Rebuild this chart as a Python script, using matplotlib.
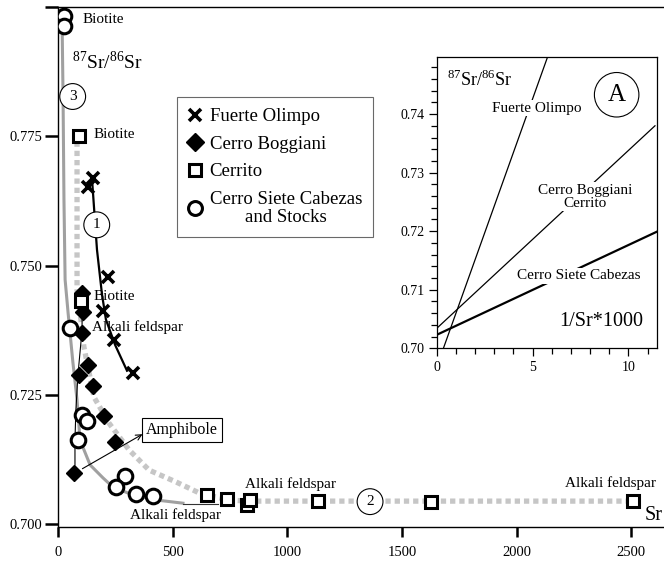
import numpy as np
import matplotlib
matplotlib.use('Agg')
import matplotlib.pyplot as plt
from matplotlib.lines import Line2D

plt.rcParams['font.family'] = ['Liberation Serif', 'DejaVu Serif']
plt.rcParams['mathtext.fontset'] = 'custom'
plt.rcParams['mathtext.rm'] = 'Liberation Serif'

# ---- datos ----
# Fuerte Olimpo (cruces)
fo_sr = [154, 132, 219, 196, 244, 328]
fo_r = [0.7670, 0.7653, 0.7479, 0.7413, 0.7357, 0.7293]
fo_line_sr = [148, 170, 192, 209, 249, 301]
fo_line_r = [0.7670, 0.7531, 0.7444, 0.7396, 0.7347, 0.7297]

# Cerro Boggiani (rombos)
cb_sr = [103, 108, 103, 132, 93, 154, 201, 249, 70]
cb_r = [0.7447, 0.7411, 0.7370, 0.7308, 0.7289, 0.7268, 0.7210, 0.7160, 0.7100]
cb_line_sr = [105, 105, 87, 78, 74, 74]
cb_line_r = [0.7454, 0.7376, 0.7289, 0.7221, 0.7163, 0.7115]

# Cerrito (cuadrados)
ce_sr = [92, 99, 651, 736, 823, 837, 1135, 1625, 2509]
ce_r = [0.7750, 0.7431, 0.7057, 0.7049, 0.7037, 0.7048, 0.7046, 0.7044, 0.7045]

# Cerro Siete Cabezas and Stocks (circulos)
cs_sr = [26, 26, 52, 103, 125, 89, 292, 253, 340, 416]
cs_r = [0.7982, 0.7963, 0.7379, 0.7211, 0.7199, 0.7163, 0.7094, 0.7072, 0.7059, 0.7055]

# curva 3 (gris continua)
c3_sr = [17, 22, 26, 31, 44, 65, 83, 96, 140, 196, 240, 327, 432, 545]
c3_r = [0.8000, 0.7828, 0.7628, 0.7473, 0.7409, 0.7313, 0.7241, 0.7163, 0.7115,
        0.7090, 0.7072, 0.7057, 0.7047, 0.7041]

# curva 2 (gris discontinua)
c2_sr = [83, 83, 100, 113, 157, 222, 310, 397, 515, 615, 746, 833, 2508]
c2_r = [0.7740, 0.7453, 0.7395, 0.7343, 0.7246, 0.7196, 0.7144, 0.7105, 0.7082,
        0.7061, 0.7047, 0.7045, 0.7045]

# recuadro A: rectas 87Sr/86Sr vs 1/Sr*1000
ins_fo_x = [0.35, 5.79]
ins_fo_y = [0.700, 0.7498]
ins_cb_x = [0.0, 11.39]
ins_cb_y = [0.7034, 0.7380]
ins_cs_x = [0.0, 11.48]
ins_cs_y = [0.7023, 0.7199]

# ---- figura ----
fig = plt.figure(figsize=(6.64, 5.62), dpi=100)
ax = fig.add_axes([58 / 664, 1 - 527 / 562, 606 / 664, 520 / 562])
ax.set_xlim(0, 2643)
ax.set_ylim(0.6995, 0.8000)
ax.spines['right'].set_visible(False)
for s in ['left', 'bottom', 'top']:
    ax.spines[s].set_linewidth(1.0)
ax.set_xticks([0, 500, 1000, 1500, 2000, 2500])
ax.set_yticks([0.700, 0.725, 0.750, 0.775, 0.800])
ax.set_yticklabels(['0.700', '0.725', '0.750', '0.775', ''])
ax.tick_params(axis='y', length=9.5, width=1.8, labelsize=10.5, pad=2)
ax.tick_params(axis='x', length=7, width=1.8, labelsize=10.5, pad=7)

ax.plot(c3_sr, c3_r, color='#a0a0a0', lw=2.2, zorder=1)
ax.plot(c2_sr, c2_r, color='#c6c6c6', lw=3.8, dashes=(1.0, 0.75), zorder=1)
ax.plot(fo_line_sr, fo_line_r, color='black', lw=1.6, zorder=2)
ax.plot(cb_line_sr, cb_line_r, color='black', lw=0.8, zorder=2)
ax.plot([545, 698], [0.7039, 0.7039], color='#333333', lw=0.8, zorder=2)

ax.plot(cs_sr, cs_r, 'o', ms=10.5, mfc='white', mec='black', mew=2.2, ls='none', zorder=3)
ax.plot(cb_sr, cb_r, 'D', ms=8, mfc='black', mec='black', ls='none', zorder=4)
ax.plot(ce_sr, ce_r, 's', ms=8.5, mfc='white', mec='black', mew=2.2, ls='none', zorder=5)
ax.plot(fo_sr, fo_r, 'x', ms=8, mec='black', mew=2.6, ls='none', zorder=5)

fs = 11
ax.text(109, 0.7976, 'Biotite', fontsize=fs, va='center')
ax.text(153, 0.7753, 'Biotite', fontsize=fs, va='center')
ax.text(153, 0.7440, 'Biotite', fontsize=fs, va='center')
ax.text(148, 0.7382, 'Alkali feldspar', fontsize=fs, va='center')
ax.text(314, 0.7018, 'Alkali feldspar', fontsize=fs, va='center')
ax.text(815, 0.7078, 'Alkali feldspar', fontsize=fs, va='center')
ax.text(2211, 0.7080, 'Alkali feldspar', fontsize=fs, va='center')
ax.text(61, 0.7895, r'$^{87}$Sr/$^{86}$Sr', fontsize=14, va='center')
ax.text(2560, 0.7018, 'Sr', fontsize=14.5, va='center')

circ = dict(boxstyle='circle,pad=0.42', fc='white', ec='black', lw=0.8)
ax.text(64, 0.7827, '3', fontsize=11, ha='center', va='center', bbox=circ, zorder=6)
ax.text(169, 0.7579, '1', fontsize=11, ha='center', va='center', bbox=circ, zorder=6)
ax.text(1361, 0.7044, '2', fontsize=11, ha='center', va='center', bbox=circ, zorder=6)

ax.annotate('', xy=(379, 0.7177), xytext=(96, 0.7105),
            arrowprops=dict(arrowstyle='->', lw=0.8, color='black'), zorder=6)
ax.text(541, 0.7183, 'Amphibole', fontsize=11.5, ha='center', va='center',
        bbox=dict(boxstyle='square,pad=0.25', fc='white', ec='black', lw=0.8), zorder=6)

handles = [
    Line2D([], [], marker='x', ls='none', ms=8, mec='black', mew=2.6),
    Line2D([], [], marker='D', ls='none', ms=9, mfc='black', mec='black'),
    Line2D([], [], marker='s', ls='none', ms=9, mfc='white', mec='black', mew=2.2),
    Line2D([], [], marker='o', ls='none', ms=10, mfc='white', mec='black', mew=2.2),
]
labels = ['Fuerte Olimpo', 'Cerro Boggiani', 'Cerrito', 'Cerro Siete Cabezas\nand Stocks']
leg = ax.legend(handles, labels, loc='upper left', bbox_to_anchor=(0.196, 0.827),
                borderaxespad=0, fontsize=13.5, frameon=True, fancybox=False,
                handlelength=0.7, handletextpad=0.45, labelspacing=0.55,
                borderpad=0.6)
leg.get_frame().set_edgecolor('#444444')
leg.get_frame().set_linewidth(0.8)
for t in leg.get_texts():
    t.set_multialignment('center')
    t.set_linespacing(1.1)

# ---- recuadro A ----
axi = fig.add_axes([436.7 / 664, 1 - 348.3 / 562, 220 / 664, 291.6 / 562])
axi.set_xlim(0, 11.48)
axi.set_ylim(0.700, 0.7498)
axi.set_xticks([0, 5, 10])
axi.set_xticks(np.arange(0, 12, 1), minor=True)
axi.set_yticks([0.70, 0.71, 0.72, 0.73, 0.74])
axi.set_yticklabels(['0.70', '0.71', '0.72', '0.73', '0.74'])
axi.set_yticks(np.arange(0.70, 0.7499, 0.002), minor=True)
axi.tick_params(which='major', length=6, width=0.9, labelsize=10, pad=3)
axi.tick_params(which='minor', length=4, width=0.9)
for s in axi.spines.values():
    s.set_linewidth(0.9)

axi.plot(ins_fo_x, ins_fo_y, color='black', lw=0.9)
axi.plot(ins_cb_x, ins_cb_y, color='black', lw=0.9)
axi.plot(ins_cs_x, ins_cs_y, color='black', lw=1.6)

wb = dict(boxstyle='square,pad=0.1', fc='white', ec='none')
axi.text(5.22, 0.7410, 'Fuerte Olimpo', fontsize=11, ha='center', va='center', bbox=wb)
axi.text(7.74, 0.7259, 'Cerro Boggiani\nCerrito', fontsize=11, ha='center', va='center',
         bbox=wb, linespacing=1.0)
axi.text(7.39, 0.7124, 'Cerro Siete Cabezas', fontsize=11, ha='center', va='center', bbox=wb)
axi.text(0.52, 0.7459, r'$^{87}$Sr/$^{86}$Sr', fontsize=13, va='center')
axi.text(9.39, 0.7433, 'A', fontsize=18, ha='center', va='center',
         bbox=dict(boxstyle='circle,pad=0.45', fc='white', ec='black', lw=0.8))
axi.text(10.77, 0.7045, '1/Sr*1000', fontsize=14.5, ha='right', va='center')

fig.savefig('out.png', dpi=100)
